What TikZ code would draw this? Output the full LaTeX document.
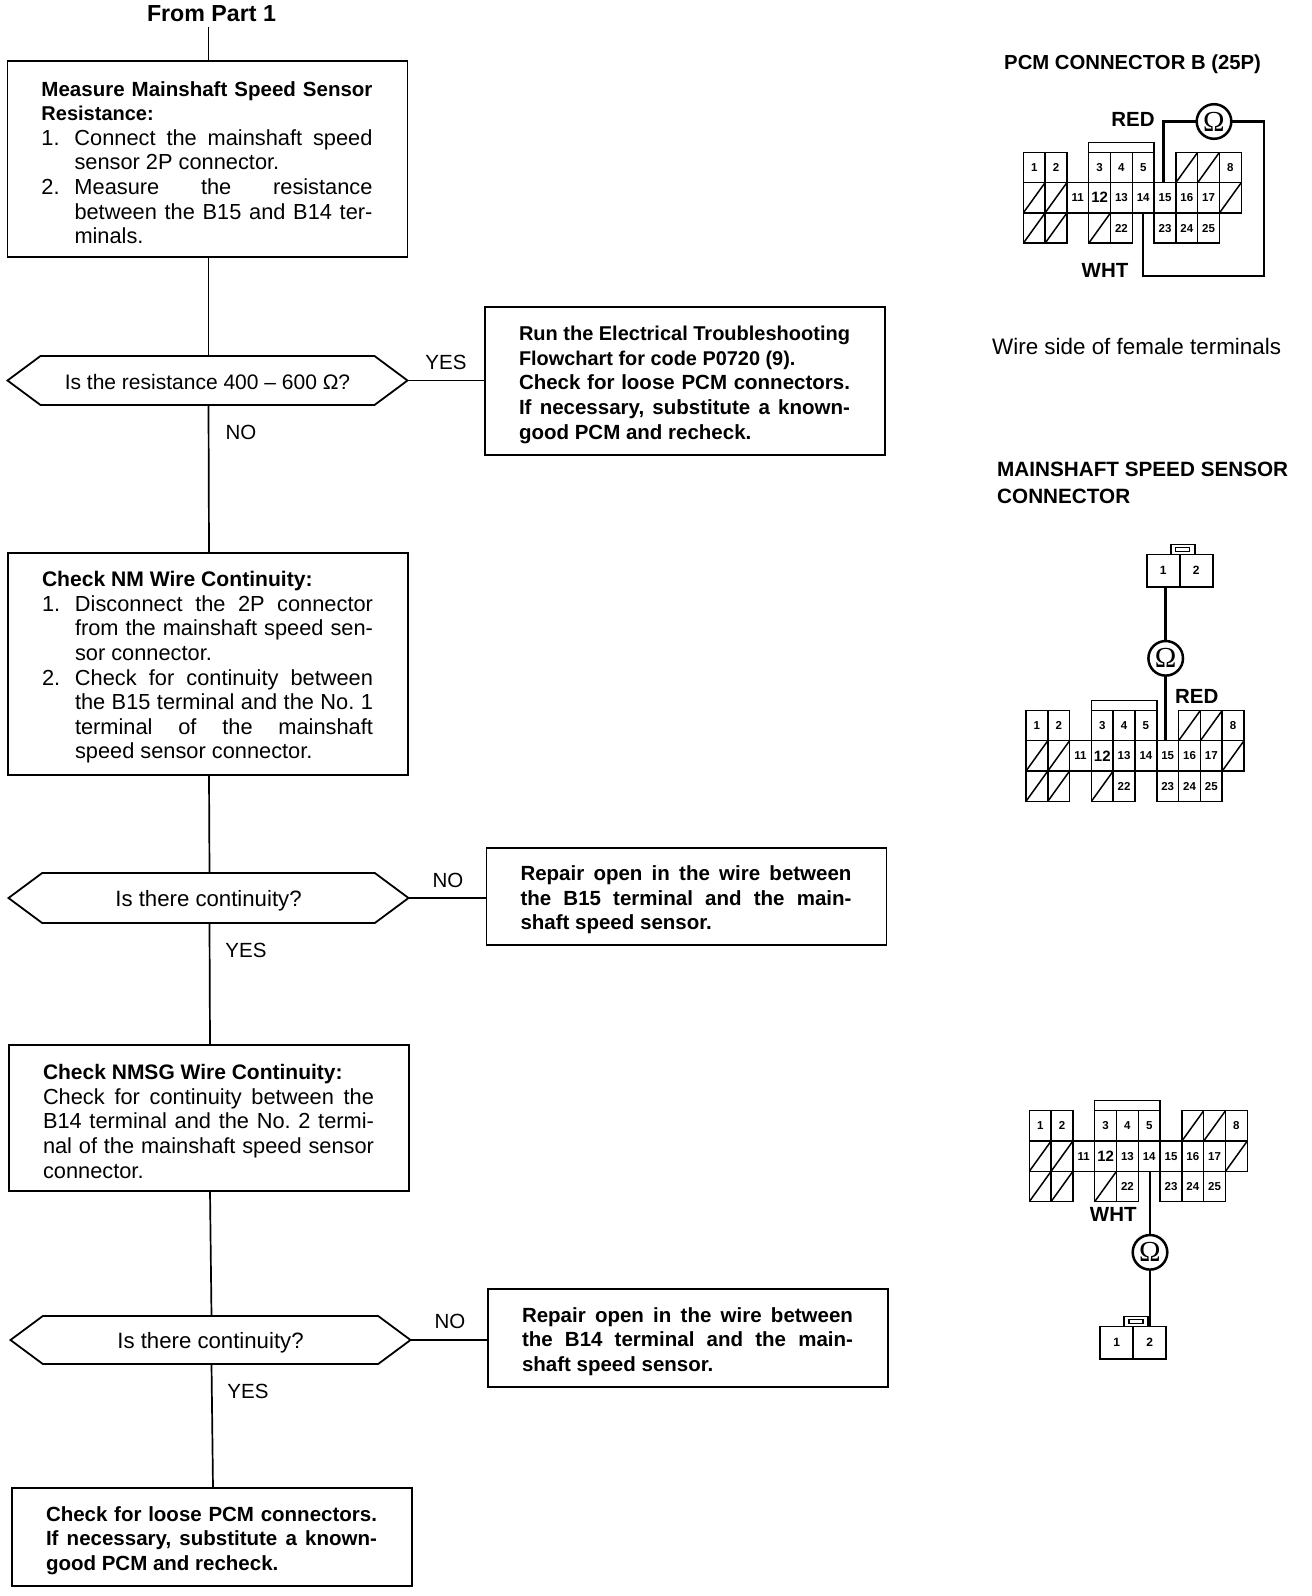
\documentclass[tikz,border=0pt]{standalone}
\usepackage{fontspec}
\setmainfont{Liberation Sans}
\newfontfamily\omfont{Liberation Serif}
\usetikzlibrary{shapes.symbols,calc}
\setlength\parindent{0pt}
\frenchspacing
\newcommand{\hd}[2][20.5]{{\fontsize{#1}{24.6}\selectfont\bfseries #2}}
\newcommand{\jl}[2]{\makebox[#1][s]{#2}}
\newcommand{\itm}[2]{\makebox[33pt][l]{#1}\jl{298pt}{#2}}
\newcommand{\ind}[1]{\hspace*{33pt}#1}
\newcommand{\dn}[2]{\raisebox{-#1pt}[\height][\depth]{#2}}
\newcommand{\vlink}[2]{\draw[flow] ([xshift=1pt]#1.south) -- ([xshift=1pt]#2.north);}
\newcommand{\hlink}[2]{\draw[flow] (#1.east) -- (#1.east -| #2.west);}
\tikzset{
  flowbox/.style={draw,line width=1.8pt,inner sep=0pt,outer sep=0pt,minimum width=400pt,text width=332pt,align=flush left,
    font=\fontsize{21.8}{24.6}\selectfont,execute at begin node={\rule{0pt}{22pt}}},
  sidebox/.style={flowbox,font=\fontsize{20.5}{24.6}\selectfont\bfseries},
  hexa/.style={draw,line width=1.8pt,shape=signal,signal to=west and east,signal pointer angle=73.2,
    inner sep=0pt,outer sep=0pt,minimum width=400pt,minimum height=49pt,font=\fontsize{21}{24}\selectfont},
  hexb/.style={hexa,font=\fontsize{22.2}{24}\selectfont},
  flow/.style={line width=1.7pt},
  lbl/.style={inner sep=0pt,font=\fontsize{20.5}{24}\selectfont},
  blbl/.style={inner sep=0pt,font=\fontsize{20.5}{24.6}\selectfont\bfseries,align=left},
  cell/.style={draw,line width=1.5pt,inner sep=0pt,outer sep=0pt,minimum width=21.8pt,minimum height=30.3pt,
    font=\fontsize{11.5}{12}\selectfont\bfseries},
  slashcell/.style={cell,path picture={\draw[line width=1.5pt] (path picture bounding box.south west) -- (path picture bounding box.north east);}},
  meter/.style={draw,circle,line width=2.5pt,inner sep=0pt,outer sep=0pt,minimum size=34.6pt,font=\omfont\fontsize{29}{29}\selectfont},
  wire/.style={line width=2.5pt},
  small/.style={draw,line width=1.6pt,inner sep=0pt,outer sep=0pt,minimum width=33pt,minimum height=32.4pt,font=\fontsize{12}{12}\selectfont\bfseries},
  latch/.style={draw,line width=1.6pt,inner sep=0pt,outer sep=0pt,minimum width=24pt,minimum height=10pt},
  latchin/.style={draw,line width=1.4pt,inner sep=0pt,outer sep=0pt,minimum width=14pt,minimum height=4pt}
}
\newcommand{\pcmconn}[3]{%
\begin{scope}[shift={(#2,#3)}]
  \foreach \cc/\rr/\lab in {0/0/1,1/0/2,3/0/3,4/0/4,5/0/5,9/0/8,2/1/11,4/1/13,5/1/14,6/1/15,7/1/16,8/1/17,4/2/22,6/2/23,7/2/24,8/2/25}
    \node[cell] (#1\lab) at ({(\cc+.5)*21.8},{(\rr+.5)*30.3}) {\lab};
  \node[cell,font=\fontsize{15}{15}\selectfont\bfseries] (#112) at ({3.5*21.8},{1.5*30.3}) {12};
  \foreach \cc/\rr in {7/0,8/0,0/1,1/1,9/1,0/2,1/2,3/2}
    \node[slashcell] (#1diag\cc\rr) at ({(\cc+.5)*21.8},{(\rr+.5)*30.3}) {};
  \node[draw,line width=1.5pt,inner sep=0pt,minimum width=65.4pt,minimum height=10pt] (#1brk) at ({4.5*21.8},-5) {};
\end{scope}}
\newcommand{\twop}[3]{%
  \node[small] (#1one) at (#2,#3) {1};
  \node[small] (#1two) at (#2+33,#3) {2};
  \node[latch] (#1lat) at (#2+16.5+3,#3-21.2) {};
  \node[latchin] (#1lin) at (#2+16.5+3,#3-21.2) {};}
\begin{document}
\begin{tikzpicture}[x=1pt,y=-1pt]
\useasboundingbox (0,0) rectangle (1312,1596);
\fill[white] (0,0) rectangle (1312,1596);

\node[inner sep=0pt,outer ysep=5pt,font=\fontsize{23.2}{26}\selectfont\bfseries] (fp) at (211.5,14) {From Part 1};

\node[flowbox,minimum height=196pt] (m1) at (207.5,159) {%
\hd{\jl{331pt}{Measure Mainshaft Speed Sensor}}\\
\hd[20]{Resistance:}\\
\itm{1.}{Connect the mainshaft speed}\\
\ind{sensor 2P connector.}\\
\itm{2.}{Measure the resistance}\\
\ind{\jl{298pt}{between the B15 and B14 ter-}}\\
\ind{minals.}};

\node[hexa] (d1) at (207.5,380.5) {\dn{1}{Is the resistance 400 – 600 Ω?}};

\node[sidebox,minimum height=148pt] (r1) at (685,381) {%
\hd[20]{\jl{331pt}{Run the Electrical Troubleshooting}}\\
\hd[19.9]{Flowchart for code P0720 (9).}\\
\jl{331pt}{Check for loose PCM connectors.}\\
\jl{331pt}{If necessary, substitute a known-}\\
good PCM and recheck.};

\node[flowbox,minimum height=222pt] (m2) at (208,664) {%
\hd[21.1]{Check NM Wire Continuity:}\\
\itm{1.}{Disconnect the 2P connector}\\
\ind{\jl{298pt}{from the mainshaft speed sen-}}\\
\ind{sor connector.}\\
\itm{2.}{Check for continuity between}\\
\ind{\jl{298pt}{the B15 terminal and the No. 1}}\\
\ind{\jl{298pt}{terminal of the mainshaft}}\\
\ind{speed sensor connector.}};

\node[hexb,minimum height=50pt] (d2) at (208.5,898) {\dn{3}{Is there continuity?}};

\node[sidebox,minimum height=97pt] (r2) at (686.5,896.5) {%
\jl{331pt}{Repair open in the wire between}\\
\jl{331pt}{the B15 terminal and the main-}\\
shaft speed sensor.};

\node[flowbox,minimum height=146pt] (m3) at (209,1118) {%
\hd[21]{Check NMSG Wire Continuity:}\\
\jl{331pt}{Check for continuity between the}\\
\jl{331pt}{B14 terminal and the No. 2 termi-}\\
\jl{331pt}{nal of the mainshaft speed sensor}\\
connector.};

\node[hexb,minimum height=48pt] (d3) at (210.5,1340) {\dn{3}{Is there continuity?}};

\node[sidebox,minimum height=98pt] (r3) at (688,1338) {%
\jl{331pt}{Repair open in the wire between}\\
\jl{331pt}{the B14 terminal and the main-}\\
shaft speed sensor.};

\node[sidebox,minimum height=98pt] (m4) at (212,1537) {%
\jl{331pt}{Check for loose PCM connectors.}\\
\jl{331pt}{If necessary, substitute a known-}\\
good PCM and recheck.};

\draw[flow] ([xshift=1pt]m1.north |- fp.south) -- ([xshift=1pt]m1.north);
\vlink{m1}{d1}
\vlink{d1}{m2}
\vlink{m2}{d2}
\vlink{d2}{m3}
\vlink{m3}{d3}
\vlink{d3}{m4}
\hlink{d1}{r1}
\hlink{d2}{r2}
\hlink{d3}{r3}

\node[lbl] (l1) at (446,362) {YES};
\node[lbl] (l2) at (241,432) {NO};
\node[lbl] (l3) at (448,880) {NO};
\node[lbl] (l4) at (246,950) {YES};
\node[lbl] (l5) at (450,1321) {NO};
\node[lbl] (l6) at (248,1391.5) {YES};

% right column
\node[blbl,anchor=west,font=\fontsize{20.3}{24}\selectfont\bfseries] (t1) at (1004,64) {PCM CONNECTOR B (25P)};
\node[lbl,anchor=west,font=\fontsize{22.4}{24}\selectfont] (t2) at (992,346) {Wire side of female terminals};
\node[blbl,anchor=north west,font=\fontsize{20.7}{26.5}\selectfont\bfseries] (t3) at (997,462) {MAINSHAFT SPEED SENSOR\\CONNECTOR};

\pcmconn{a}{1023.3}{152.3}
\node[meter] (om1) at (1214,121.5) {Ω};
\coordinate (ca) at (1264,276);
\draw[wire] ([xshift=-1.5pt]a15.north) |- (om1.west);
\draw[wire] (om1.east) -| (ca) -| (a14.south);
\node[blbl] (ra) at (1133,119) {RED};
\node[blbl] (wa) at (1105,270) {WHT};

\twop{s}{1163.2}{570.5}
\pcmconn{b}{1026}{710.4}
\node[meter] (om2) at (1165.7,658.3) {Ω};
\draw[wire] (om2.north) -- (om2.north |- sone.south);
\draw[wire] (om2.south) -- (om2.south |- b15.north);
\node[blbl] (rb) at (1196.7,696) {RED};

\pcmconn{c}{1029.3}{1110.7}
\twop{u}{1116.6}{1342.7}
\node[meter] (om3) at (1150,1252.3) {Ω};
\draw[wire] (om3.north) -- (om3.north |- c14.south);
\draw[wire] (om3.south) -- (om3.south |- utwo.north);
\node[blbl] (wc) at (1113.3,1214.3) {WHT};
\end{tikzpicture}
\end{document}
